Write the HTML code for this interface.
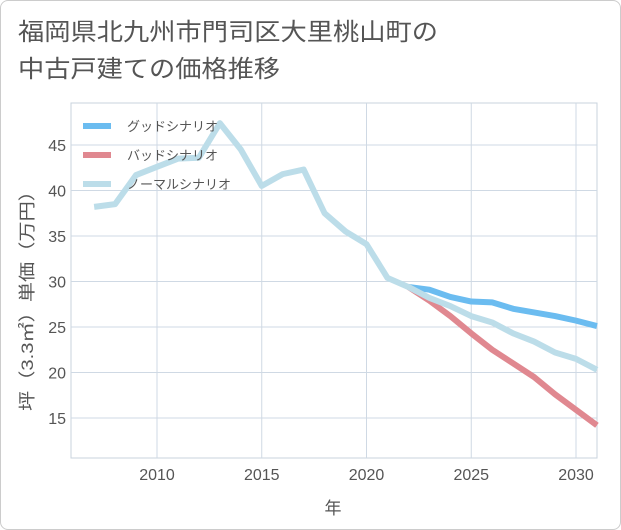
<!DOCTYPE html>
<html><head><meta charset="utf-8"><style>
body{margin:0;background:#fff;}
#wrap{position:relative;width:619px;height:528px;border:1px solid #ccc;border-radius:8px;overflow:hidden;background:#fff;font-family:"Liberation Sans","Noto Sans CJK JP",sans-serif;}
</style></head><body>
<div id="wrap">
<svg id="svg" width="621" height="530" style="position:absolute;left:-1px;top:-1px" font-family="Liberation Sans, Noto Sans CJK JP, sans-serif">
<text x="18" y="40" font-size="24" fill="#555" textLength="420" lengthAdjust="spacingAndGlyphs">福岡県北九州市門司区大里桃山町の</text>
<text x="18" y="77" font-size="24" fill="#555" textLength="262" lengthAdjust="spacingAndGlyphs">中古戸建ての価格推移</text>
<g id="grid"></g>
<g id="series"></g>
<text x="333" y="514" font-size="17" fill="#555" text-anchor="middle">年</text>
<text transform="translate(33,296) rotate(-90)" font-size="17" fill="#555" text-anchor="middle" textLength="230" lengthAdjust="spacingAndGlyphs">坪（3.3㎡）単価（万円）</text>
<g id="legend"></g>
</svg>
</div>
<script>
const years=[2007,2008,2009,2010,2011,2012,2013,2014,2015,2016,2017,2018,2019,2020,2021,2022,2023,2024,2025,2026,2027,2028,2029,2030,2031];
const normal=[38.2,38.5,41.7,42.6,43.5,43.6,47.4,44.5,40.5,41.8,42.3,37.5,35.5,34.1,30.4,29.4,28.2,27.3,26.2,25.5,24.3,23.4,22.2,21.5,20.3];
const futureYears=[2022,2023,2024,2025,2026,2027,2028,2029,2030,2031];
const good=[29.4,29.1,28.3,27.8,27.7,27.0,26.6,26.2,25.7,25.1];
const bad=[29.4,27.9,26.2,24.3,22.5,21.0,19.5,17.6,15.9,14.2];
const xTicks=[2010,2015,2020,2025,2030];
const yTicks=[15,20,25,30,35,40,45];
const L=71,R=597,T=103,B=458;
const x=v=>157+(v-2010)*20.95;
const y=v=>418-(v-15)*9.1;
const NS='http://www.w3.org/2000/svg';
function mk(tag,attrs,parent){const e=document.createElementNS(NS,tag);for(const k in attrs)e.setAttribute(k,attrs[k]);parent.appendChild(e);return e;}
const grid=document.getElementById('grid');
mk('rect',{x:L,y:T,width:R-L,height:B-T,fill:'none',stroke:'#c8d3de'},grid);
xTicks.forEach(t=>{
 const l=mk('line',{x1:x(t),x2:x(t),y1:T,y2:B,stroke:'#cfd9e4'},grid);
 
 
 const tx=mk('text',{x:x(t),y:B+22,'font-size':16,fill:'#555','text-anchor':'middle'},grid);
 tx.textContent=t;
 
 
});
yTicks.forEach(t=>{
 const l=mk('line',{x1:L,x2:R,y1:y(t),y2:y(t),stroke:'#cfd9e4'},grid);
 
 
 const tx=mk('text',{x:L-5,y:y(t)+6,'font-size':16,fill:'#555','text-anchor':'end'},grid);
 tx.textContent=t;
 
 
});
const sg=document.getElementById('series');
function line(xs,vs,color,name){
 const p=mk('polyline',{points:xs.map((v,i)=>x(v)+','+y(vs[i])).join(' '),fill:'none',stroke:color,'stroke-width':6,'stroke-linejoin':'round'},sg);
 
 
}
line(futureYears,good,'#6bbcf0','good-scenario-line');
line(futureYears,bad,'#e08890','bad-scenario-line');
line(years,normal,'#bcdde9','normal-scenario-line');
const lg=document.getElementById('legend');
[['グッドシナリオ','#6bbcf0',126],['バッドシナリオ','#e08890',155],['ノーマルシナリオ','#bcdde9',184]].forEach(([n,c,yy])=>{
 const g=mk('g',{},lg);
 
 
 mk('line',{x1:83,x2:111,y1:yy,y2:yy,stroke:c,'stroke-width':6},g);
 const t=mk('text',{x:127,y:yy+5,'font-size':13,fill:'#555'},g);
 t.textContent=n;
});
</script>
</body></html>
